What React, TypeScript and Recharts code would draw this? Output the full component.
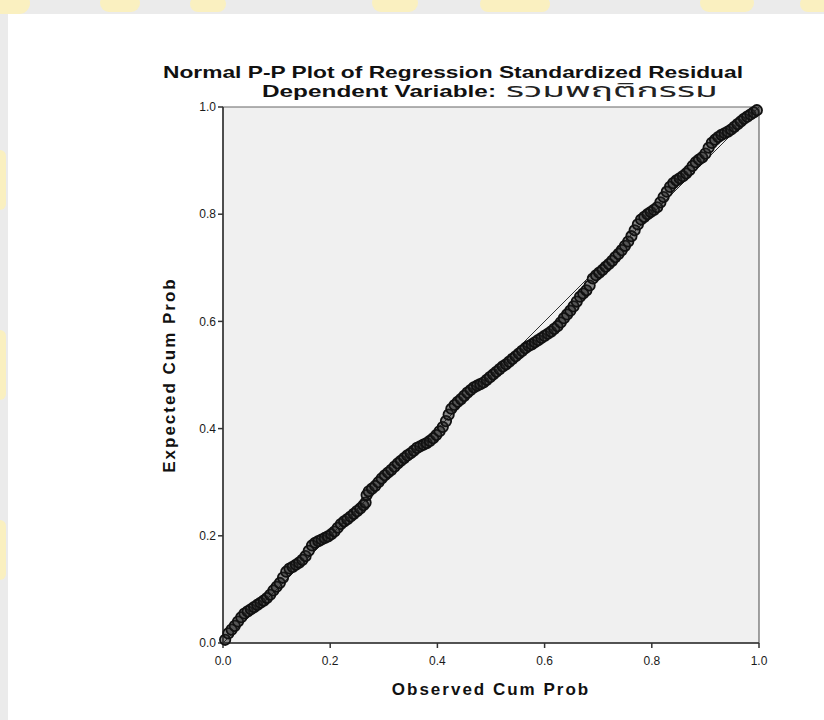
import { ScatterChart, Scatter, XAxis, YAxis, ReferenceLine, ReferenceArea, Label } from 'recharts';

const title = 'Normal P-P Plot of Regression Standardized Residual';
const subtitleLead = 'Dependent Variable:';
const subtitleVar = 'รวมพฤติกรรม';
const xLabel = 'Observed Cum Prob';
const yLabel = 'Expected Cum Prob';
const ticks = [0, 0.2, 0.4, 0.6, 0.8, 1.0];

// observed cum prob (x) vs expected cum prob (y)
const observed = [
    0.004, 0.010, 0.016, 0.022, 0.028, 0.034, 0.040, 0.046, 0.052, 0.058, 0.064, 0.070, 0.076, 0.082, 0.088, 0.094,
    0.100, 0.106, 0.112, 0.118, 0.124, 0.130, 0.136, 0.142, 0.148, 0.154, 0.160, 0.166, 0.172, 0.178, 0.184, 0.190,
    0.196, 0.202, 0.208, 0.214, 0.220, 0.226, 0.232, 0.238, 0.244, 0.250, 0.256, 0.262, 0.266, 0.268, 0.272, 0.278,
    0.284, 0.290, 0.296, 0.302, 0.308, 0.314, 0.320, 0.326, 0.332, 0.338, 0.344, 0.350, 0.356, 0.362, 0.368, 0.374,
    0.380, 0.386, 0.392, 0.398, 0.404, 0.410, 0.416, 0.421, 0.426, 0.432, 0.438, 0.444, 0.450, 0.456, 0.462, 0.468,
    0.474, 0.480, 0.486, 0.492, 0.498, 0.504, 0.510, 0.516, 0.522, 0.528, 0.534, 0.540, 0.546, 0.552, 0.558, 0.564,
    0.570, 0.576, 0.582, 0.588, 0.594, 0.600, 0.606, 0.612, 0.618, 0.624, 0.630, 0.636, 0.642, 0.648, 0.654, 0.660,
    0.666, 0.672, 0.678, 0.684, 0.690, 0.696, 0.702, 0.708, 0.714, 0.720, 0.726, 0.732, 0.738, 0.744, 0.750, 0.756,
    0.762, 0.768, 0.774, 0.780, 0.786, 0.792, 0.798, 0.804, 0.810, 0.816, 0.822, 0.828, 0.834, 0.840, 0.846, 0.852,
    0.858, 0.864, 0.870, 0.876, 0.882, 0.888, 0.894, 0.900, 0.906, 0.912, 0.918, 0.924, 0.930, 0.936, 0.942, 0.948,
    0.954, 0.960, 0.966, 0.972, 0.978, 0.984, 0.990, 0.996,
];
const expected = [
    0.006, 0.018, 0.025, 0.032, 0.040, 0.048, 0.055, 0.059, 0.063, 0.067, 0.071, 0.075, 0.079, 0.084, 0.090, 0.098,
    0.105, 0.112, 0.122, 0.133, 0.139, 0.142, 0.146, 0.150, 0.155, 0.162, 0.172, 0.182, 0.187, 0.190, 0.193, 0.196,
    0.199, 0.203, 0.208, 0.215, 0.222, 0.227, 0.231, 0.236, 0.241, 0.246, 0.251, 0.257, 0.262, 0.276, 0.283, 0.288,
    0.293, 0.300, 0.307, 0.313, 0.318, 0.323, 0.329, 0.335, 0.340, 0.345, 0.350, 0.354, 0.359, 0.364, 0.367, 0.370,
    0.373, 0.377, 0.382, 0.388, 0.395, 0.403, 0.414, 0.426, 0.437, 0.444, 0.450, 0.455, 0.461, 0.467, 0.472, 0.477,
    0.480, 0.483, 0.486, 0.491, 0.496, 0.501, 0.506, 0.511, 0.516, 0.520, 0.525, 0.530, 0.535, 0.540, 0.545, 0.550,
    0.554, 0.557, 0.561, 0.565, 0.569, 0.573, 0.577, 0.581, 0.586, 0.591, 0.598, 0.606, 0.613, 0.620, 0.628, 0.637,
    0.646, 0.652, 0.658, 0.667, 0.680, 0.686, 0.691, 0.696, 0.702, 0.707, 0.713, 0.720, 0.726, 0.733, 0.741, 0.749,
    0.759, 0.770, 0.781, 0.790, 0.795, 0.800, 0.804, 0.808, 0.813, 0.822, 0.832, 0.842, 0.851, 0.858, 0.863, 0.867,
    0.871, 0.876, 0.882, 0.890, 0.897, 0.902, 0.906, 0.913, 0.924, 0.933, 0.939, 0.944, 0.948, 0.951, 0.954, 0.958,
    0.963, 0.968, 0.973, 0.978, 0.982, 0.986, 0.990, 0.994,
];

const points = observed.map((x, i) => ({ x, y: expected[i] }));

const font = '"Liberation Sans", Arial, sans-serif';
const thaiFont = '"Noto Sans Thai", "Noto Sans", "DejaVu Sans", sans-serif';

const Ring = (props: any) => (
    <circle cx={props.cx} cy={props.cy} r={5.2} fill="#222" fillOpacity={0.5} stroke="#111" strokeWidth={1.8} />
);

// faint yellow watermark blobs in the grey margin
const blobs = [
    { l: -10, t: -8, w: 40, h: 22 },
    { l: 100, t: -6, w: 40, h: 18 },
    { l: 190, t: -4, w: 36, h: 16 },
    { l: 372, t: -6, w: 46, h: 18 },
    { l: 480, t: -4, w: 70, h: 16 },
    { l: 700, t: -6, w: 54, h: 18 },
    { l: 800, t: -4, w: 40, h: 16 },
    { l: -6, t: 150, w: 12, h: 60 },
    { l: -6, t: 330, w: 12, h: 70 },
    { l: -6, t: 520, w: 12, h: 60 },
];

export default function App() {
    return (
        <div style={{ position: 'absolute', left: 0, top: 0, width: 824, height: 720, background: '#ebebeb', overflow: 'hidden' }}>
            {blobs.map((b, i) => (
                <div key={i} style={{ position: 'absolute', left: b.l, top: b.t, width: b.w, height: b.h, borderRadius: 12, background: '#faf0c0' }} />
            ))}
            <div style={{ position: 'absolute', left: 8, top: 14, width: 816, height: 706, background: '#ffffff', fontFamily: font }}>
                <ScatterChart width={816} height={706} margin={{ top: 93, right: 65, bottom: 47, left: 175 }}>
                    <XAxis
                        type="number"
                        dataKey="x"
                        domain={[0, 1]}
                        ticks={ticks}
                        tickFormatter={(v) => v.toFixed(1)}
                        stroke="#333"
                        strokeWidth={1.5}
                        tickSize={5}
                        height={30}
                        tick={{ fill: '#1a1a1a', fontSize: 12, fontFamily: font, dy: 6 }}
                    >
                        <Label value={xLabel} position="insideBottom" offset={-22} style={{ fontSize: 17, fontWeight: 'bold', fill: '#111', fontFamily: font, letterSpacing: 2 }} />
                    </XAxis>
                    <YAxis
                        type="number"
                        dataKey="y"
                        domain={[0, 1]}
                        ticks={ticks}
                        tickFormatter={(v) => v.toFixed(1)}
                        stroke="#333"
                        strokeWidth={1.5}
                        tickSize={5}
                        width={40}
                        tick={{ fill: '#1a1a1a', fontSize: 12, fontFamily: font }}
                    >
                        <Label value={yLabel} angle={-90} position="insideLeft" offset={-14} style={{ fontSize: 17, fontWeight: 'bold', fill: '#111', fontFamily: font, textAnchor: 'middle', letterSpacing: 2 }} />
                    </YAxis>
                    <ReferenceArea x1={0} x2={1} y1={0} y2={1} fill="#f0f0f0" fillOpacity={1} stroke="#666" strokeWidth={1.2} />
                    <ReferenceLine segment={[{ x: 0, y: 0 }, { x: 1, y: 1 }]} stroke="#333" strokeWidth={1} />
                    <Scatter data={points} shape={Ring} isAnimationActive={false} />
                </ScatterChart>
            </div>
            <svg width={824} height={720} style={{ position: 'absolute', left: 0, top: 0, pointerEvents: 'none' }}>
                <text x={163} y={78} fontSize={16.5} fontWeight="bold" fontFamily={font} fill="#111" textLength={580} lengthAdjust="spacingAndGlyphs">
                    {title}
                </text>
                <text x={262} y={97} fontSize={16.5} fontWeight="bold" fontFamily={font} fill="#111" textLength={234} lengthAdjust="spacingAndGlyphs">
                    {subtitleLead}
                </text>
                <text transform="translate(506 97) scale(1.9 1)" fontSize={19.5} fontFamily={thaiFont} fill="#222">
                    {subtitleVar}
                </text>
            </svg>
        </div>
    );
}
